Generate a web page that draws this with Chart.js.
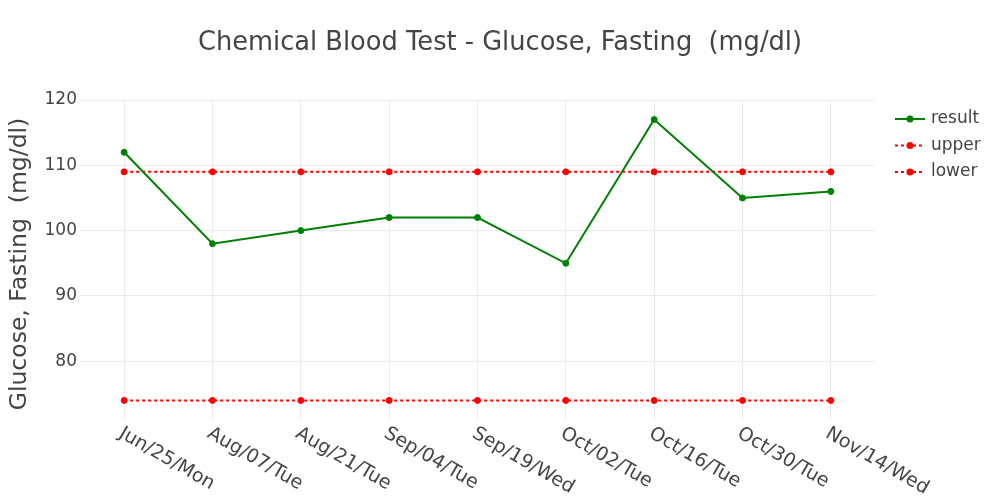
<!DOCTYPE html>
<html>
<head>
<meta charset="utf-8">
<script src="https://cdn.jsdelivr.net/npm/chart.js@4.4.1/dist/chart.umd.min.js"></script>
<style>
  html, body { margin: 0; padding: 0; background: #fff; }
  #wrap { width: 1000px; height: 500px; position: relative; }
</style>
</head>
<body>
<div id="wrap"><canvas id="glucoseChart"></canvas></div>
<script>
// 데이터
const dates = ['Jun/25/Mon', 'Aug/07/Tue', 'Aug/21/Tue', 'Sep/04/Tue', 'Sep/19/Wed',
               'Oct/02/Tue', 'Oct/16/Tue', 'Oct/30/Tue', 'Nov/14/Wed'];
const resultValues = [112, 98, 100, 102, 102, 95, 117, 105, 106];
const upperValues = [109, 109, 109, 109, 109, 109, 109, 109, 109];
const lowerValues = [74, 74, 74, 74, 74, 74, 74, 74, 74];
const yTicks = [80, 90, 100, 110, 120];

const titleText = 'Chemical Blood Test - Glucose, Fasting  (mg/dl)';
const yTitleText = 'Glucose, Fasting  (mg/dl)';
const FONT = '"DejaVu Sans", Verdana, sans-serif';
const TEXT = '#444';

// 제목, 축 제목, x 라벨, 범례 그리기
const decorPlugin = {
    id: 'decor',
    afterDraw(chart) {
        const ctx = chart.ctx;
        const area = chart.chartArea;
        const xScale = chart.scales.x;
        ctx.save();
        ctx.fillStyle = TEXT;

        // 제목
        ctx.font = '25.7px ' + FONT;
        ctx.textAlign = 'center';
        ctx.textBaseline = 'middle';
        ctx.fillText(titleText, 500, 43);

        // y축 제목
        ctx.save();
        ctx.translate(20, (area.top + area.bottom) / 2 + 4);
        ctx.rotate(-Math.PI / 2);
        ctx.font = '23.5px ' + FONT;
        ctx.fillText(yTitleText, 0, 0);
        ctx.restore();

        // x축 라벨 (30도 회전)
        ctx.font = '19px ' + FONT;
        ctx.textAlign = 'left';
        ctx.textBaseline = 'top';
        chart.data.labels.forEach((lab, i) => {
            const x = xScale.getPixelForTick(i);
            ctx.save();
            ctx.translate(x + 1, area.bottom + 4);
            ctx.rotate(Math.PI / 6);
            ctx.fillText(lab, 0, 0);
            ctx.restore();
        });

        // 범례
        ctx.font = '17px ' + FONT;
        ctx.textBaseline = 'middle';
        chart.data.datasets.forEach((ds, i) => {
            const y = 119 + i * 26.5;
            ctx.strokeStyle = ds.borderColor;
            ctx.lineWidth = 2;
            ctx.setLineDash(ds.borderDash || []);
            ctx.beginPath();
            ctx.moveTo(895, y);
            ctx.lineTo(925, y);
            ctx.stroke();
            ctx.setLineDash([]);
            ctx.fillStyle = ds.pointBackgroundColor;
            ctx.beginPath();
            ctx.arc(910, y, 3.5, 0, Math.PI * 2);
            ctx.fill();
            ctx.fillStyle = TEXT;
            ctx.fillText(ds.label, 931, y);
        });
        ctx.restore();
    }
};

const ctx = document.getElementById('glucoseChart').getContext('2d');
new Chart(ctx, {
    type: 'line',
    data: {
        labels: dates,
        datasets: [
            {
                label: 'result',
                data: resultValues,
                borderColor: '#008000',
                pointBackgroundColor: '#008000',
                pointBorderColor: '#008000',
                borderWidth: 2,
                pointRadius: 3,
                pointBorderWidth: 1,
                tension: 0,
                fill: false,
            },
            {
                label: 'upper',
                data: upperValues,
                borderColor: '#ff0000',
                pointBackgroundColor: '#ff0000',
                pointBorderColor: '#ff0000',
                borderWidth: 2,
                borderDash: [3, 3],
                pointRadius: 3,
                pointBorderWidth: 1,
                fill: false,
            },
            {
                label: 'lower',
                data: lowerValues,
                borderColor: '#ff0000',
                pointBackgroundColor: '#ff0000',
                pointBorderColor: '#ff0000',
                borderWidth: 2,
                borderDash: [3, 3],
                pointRadius: 3,
                pointBorderWidth: 1,
                fill: false,
            },
        ],
    },
    options: {
        responsive: true,
        maintainAspectRatio: false,
        animation: false,
        layout: {
            padding: { top: 100, right: 125, bottom: 0, left: 0 },
        },
        plugins: {
            legend: { display: false },
            title: { display: false },
            tooltip: { enabled: false },
        },
        scales: {
            x: {
                offset: true,
                grid: { color: '#ebebeb', lineWidth: 1, drawTicks: false },
                border: { display: false },
                ticks: { display: false },
                afterFit(scale) { scale.height = 80; },
            },
            y: {
                min: 71,
                max: 120,
                grid: { color: '#ebebeb', lineWidth: 1, drawTicks: false },
                border: { display: false },
                ticks: {
                    color: TEXT,
                    font: { family: FONT, size: 17 },
                    padding: 3,
                },
                afterBuildTicks(scale) {
                    scale.ticks = yTicks.map(v => ({ value: v }));
                },
                afterFit(scale) { scale.width = 80; },
            },
        },
    },
    plugins: [decorPlugin],
});
</script>
</body>
</html>
